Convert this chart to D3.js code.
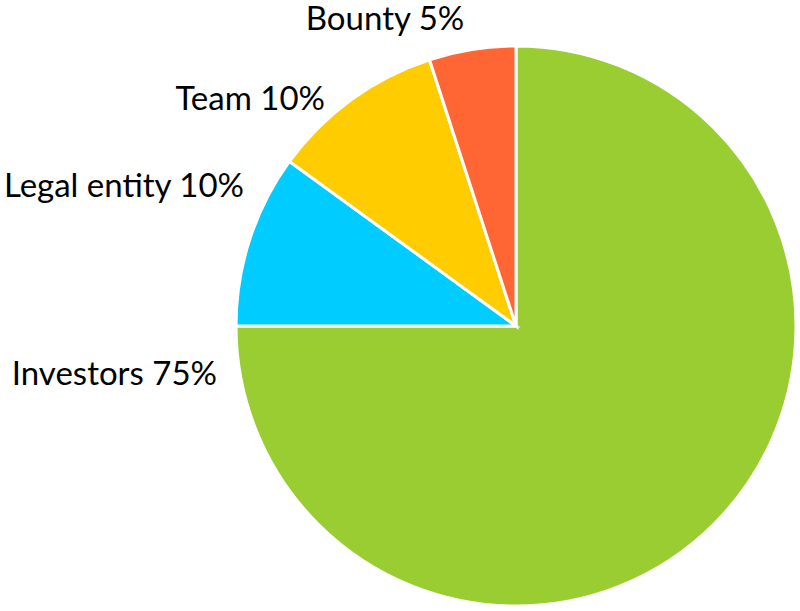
<!DOCTYPE html>
<html><head><meta charset="utf-8">
<script src="https://cdn.jsdelivr.net/npm/d3@7"></script>
<style>html,body{margin:0;padding:0;background:#fff}</style>
</head><body>
<svg id="c" width="800" height="611"></svg>
<script>
const categories = ["Investors", "Legal entity", "Team", "Bounty"];
const values = [75, 10, 10, 5];
const colors = ["#9ACD32", "#00CCFF", "#FFCC00", "#FF6633"];

// label anchor layout (text-anchor end/middle, x, y baseline)
const labelLayout = [
  {anchor: "end", x: 217, y: 385},
  {anchor: "end", x: 244, y: 197},
  {anchor: "end", x: 325, y: 110},
  {anchor: "middle", x: 385, y: 30}
];

const svg = d3.select("#c");
const cx = 516, cy = 326, r = 280;
const data = categories.map((c, i) => ({cat: c, value: values[i]}));
const pie = d3.pie().value(d => d.value).sort(null);
const arc = d3.arc().innerRadius(0).outerRadius(r);
const g = svg.append("g").attr("transform", `translate(${cx},${cy})`);
g.selectAll("path").data(pie(data)).join("path")
  .attr("d", arc)
  .attr("fill", (d, i) => colors[i])
  .attr("stroke", "#fff")
  .attr("stroke-width", 3)
  .attr("stroke-linejoin", "miter");

svg.selectAll("text.lbl").data(data).join("text")
  .attr("class", "lbl")
  .attr("x", (d, i) => labelLayout[i].x)
  .attr("y", (d, i) => labelLayout[i].y)
  .attr("text-anchor", (d, i) => labelLayout[i].anchor)
  .attr("font-family", "Lato, 'Open Sans', sans-serif")
  .attr("font-size", 33)
  .attr("fill", "#000")
  .text(d => `${d.cat} ${d.value}%`);
</script>
</body></html>
